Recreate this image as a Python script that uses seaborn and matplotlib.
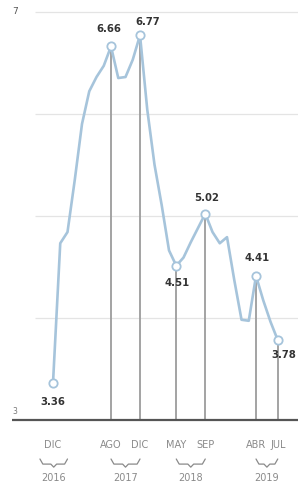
import matplotlib
import matplotlib.pyplot as plt
import pandas as pd
import seaborn as sns

matplotlib.use('agg')

# monthly values, month 0 = DIC 2016
months = list(range(32))
values = [3.36, 4.73, 4.84, 5.35, 5.90, 6.22, 6.36, 6.47, 6.66, 6.35, 6.36, 6.53,
          6.77, 6.04, 5.50, 5.10, 4.66, 4.51, 4.59, 4.74, 4.88, 5.02, 4.84, 4.73,
          4.79, 4.37, 3.98, 3.97, 4.41, 4.17, 3.96, 3.78]

# highlighted months and their labels
marked = [0, 8, 12, 17, 21, 28, 31]
month_names = ["DIC", "AGO", "DIC", "MAY", "SEP", "ABR", "JUL"]
years = ["2016", "2017", "2018", "2019"]
year_groups = [(0, 0), (8, 12), (17, 21), (28, 31)]
y_ticks = [3, 7]
grid_vals = [4, 5, 6, 7]

line_color = "#a6c4db"
df = pd.DataFrame({"month": months, "value": values})

sns.set_style("white")
plt.rcParams['font.family'] = ['DejaVu Sans']

fig = plt.figure(figsize=(2.98, 4.9), dpi=100)
ax = fig.add_axes([0, 0, 1, 1])
ax.set_xlim(-7.31, 33.79)
ax.set_ylim(2.311, 7.115)
ax.axis('off')

ax.hlines(grid_vals, -2.5, 33.79, color="#e4e4e4", lw=0.9, zorder=0)
ax.hlines(3, -5.66, 33.79, color="#555555", lw=1.6, zorder=3)

# grey drop lines from the marked points (not the first one)
for m in marked[1:]:
    ax.vlines(m, 3, values[m], color="#9c9c9c", lw=1.3, zorder=1)

sns.lineplot(data=df, x="month", y="value", ax=ax, color=line_color, lw=1.9,
             zorder=2, solid_joinstyle='round')
ax.plot([months[m] for m in marked], [values[m] for m in marked], 'o',
        ms=6, mfc='white', mec=line_color, mew=1.3, zorder=4)

# value labels (pixel offsets)
offsets = {0: (0, -19), 8: (-2, 17), 12: (8, 13), 17: (1, -17),
           21: (1, 16), 28: (1, 18), 31: (6, -15)}
for m in marked:
    dx, dy = offsets[m]
    ax.annotate(f"{values[m]:.2f}", (months[m], values[m]), xytext=(dx, dy),
                textcoords='offset pixels', ha='center', va='center',
                fontsize=7.3, fontweight='bold', color="#333333", zorder=5)

# y tick labels
ax.text(-5.6, 7, str(y_ticks[1]), fontsize=6.5, color="#555555", ha='left', va='center')
ax.text(-5.6, 3.04, str(y_ticks[0]), fontsize=5.5, color="#777777", ha='left', va='bottom')

# month labels, braces, years
for m, name in zip(marked, month_names):
    ax.text(m, 2.75, name, fontsize=7, color="#8a8a8a", ha='center', va='center')

for (a, b), yr in zip(year_groups, years):
    if a == b:
        a, b = a - 1.8, b + 2.0
    mid = (a + b) / 2
    top, dip = 2.615, 2.565
    bx = [a, a + 0.4, mid - 0.4, mid, mid + 0.4, b - 0.4, b]
    by = [top, dip, dip, dip - 0.03, dip, dip, top]
    ax.plot(bx, by, color="#8a8a8a", lw=0.9)
    ax.text(mid, 2.43, yr, fontsize=7, color="#8a8a8a", ha='center', va='center')

fig.savefig("out.png", dpi=100)
